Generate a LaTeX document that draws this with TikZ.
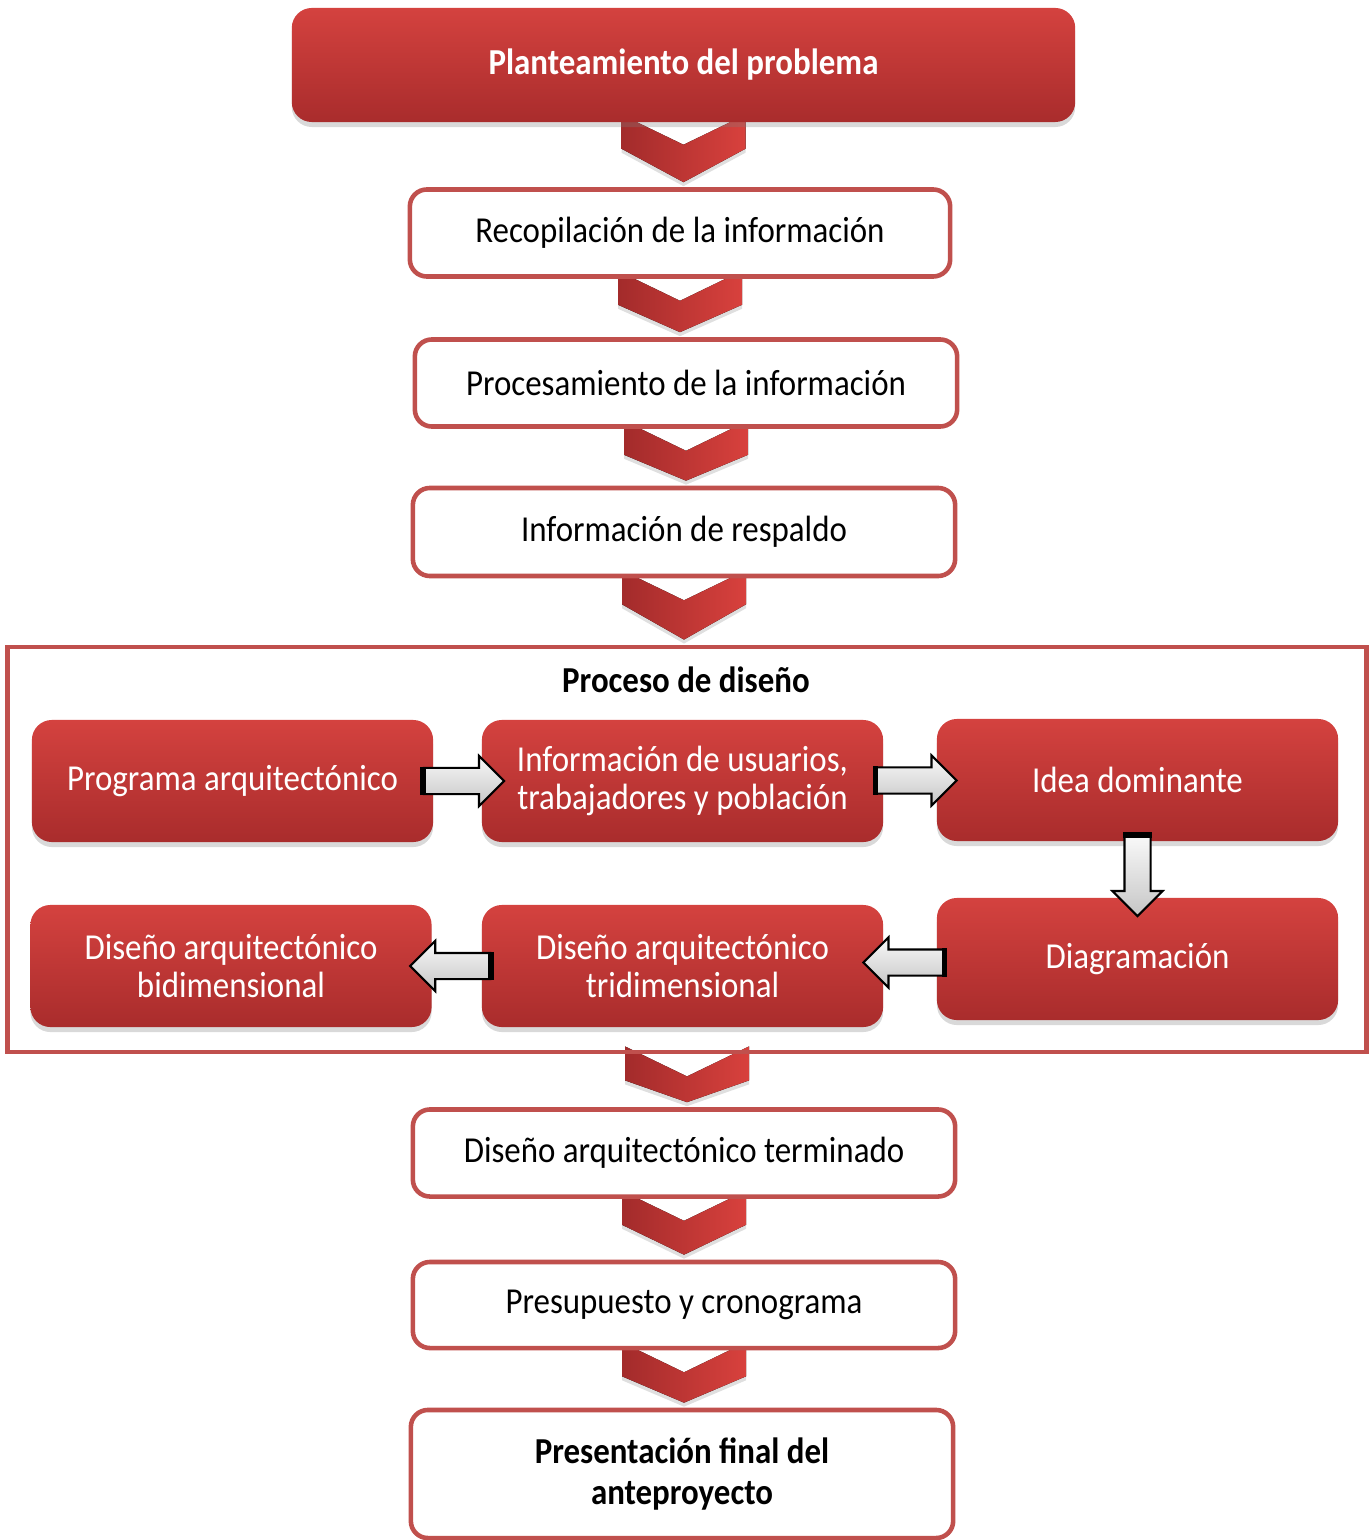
\documentclass[tikz,border=0pt]{standalone}
\usepackage{fontspec}
\setmainfont{Carlito}[FakeStretch=0.9]
\usetikzlibrary{calc,shapes.arrows,shadows}
\pgfdeclarelayer{back}
\pgfsetlayers{back,main}
\definecolor{accent}{HTML}{C0504D}
\definecolor{boxtop}{HTML}{D4423F}
\definecolor{boxbot}{HTML}{A92C2C}
\definecolor{chevdark}{HTML}{A32B2B}
\definecolor{chevlight}{HTML}{D8413D}
\tikzset{
  wbox/.style={draw=accent, line width=1.3pt, fill=white, rounded corners=0.17cm, align=center, minimum width=5.42cm, minimum height=0.87cm, font=\fontsize{10.4}{11.5}\selectfont},
  rbox/.style={rounded corners=0.2cm, top color=boxtop, bottom color=boxbot, text=white, align=center, minimum width=4.01cm, minimum height=1.22cm, font=\fontsize{10.4}{11}\selectfont, drop shadow={opacity=0.3, shadow xshift=0pt, shadow yshift=-0.05cm}},
  chevron/.style={left color=chevdark, right color=chevlight, drop shadow={opacity=0.25, shadow xshift=0pt, shadow yshift=-0.04cm}},
  garrow/.style={single arrow, draw=black, line width=0.6pt, top color=gray!5, bottom color=gray!45, inner sep=0.12cm, single arrow head extend=0.12cm, minimum height=0.8cm},
  tailcap/.style={line width=1.6pt, black}
}
% chevron below node #1, tip pointing at node #2
\newcommand{\chev}[2]{\fill[chevron] ($(#1.south)+(-62,-8)$) -- ($(#1.south)+(0,22)$) -- ($(#1.south)+(62,-8)$) -- ($(#1.south)+(62,26)$) -- ($(#1.south |- #2.north)+(0,-5)$) -- ($(#1.south)+(-62,26)$) -- cycle;}
\begin{document}
\begin{tikzpicture}[x=0.01cm, y=-0.01cm]
  \useasboundingbox (0,0) rectangle (1369,1540);

  \node[rbox, minimum width=7.83cm, minimum height=1.14cm, font=\bfseries\fontsize{10.4}{11}\selectfont] (plant) at (683.5,65) {Planteamiento del problema};
  \node[wbox, minimum width=5.40cm] (recop) at (680,233) {Recopilación de la información};
  \node[wbox] (proces) at (686,383) {Procesamiento de la información};
  \node[wbox, minimum height=0.88cm] (respal) at (684,532) {Información de respaldo};

  % proceso de diseno
  \node[draw=accent, line width=1.3pt, minimum width=13.58cm, minimum height=4.05cm] (diseno) at (687,849.5) {};
  \node[font=\bfseries\fontsize{10.4}{11}\selectfont] (titdis) at (686,680) {Proceso de diseño};

  \node[rbox] (prog) at (232.5,781) {Programa arquitectónico};
  \node[rbox] (usuar) at (682.5,781) {Información de usuarios,\\trabajadores y población};
  \node[rbox] (idea) at (1137.5,780) {Idea dominante};
  \node[rbox] (bidim) at (231,966) {Diseño arquitectónico\\bidimensional};
  \node[rbox] (tridim) at (682.5,966) {Diseño arquitectónico\\tridimensional};
  \node[rbox] (diagr) at (1137.5,959) {Diagramación};

  \node[garrow] (a1) at ($(prog.east)!.5!(usuar.west)$) {};
  \node[garrow] (a2) at ($(usuar.east)!.5!(idea.west)$) {};
  \node[garrow, shape border rotate=270] (a3) at ($(idea.south)!.5!(diagr.north)$) {};
  \node[garrow, shape border rotate=180] (a4) at ($(diagr.west)!.5!(tridim.east)$) {};
  \node[garrow, shape border rotate=180] (a5) at ($(tridim.west)!.5!(bidim.east)$) {};
  \foreach \a in {a1,a2,a3,a4,a5}
    \draw[tailcap] (\a.before tail) -- (\a.after tail);

  \node[wbox] (termin) at (684,1153) {Diseño arquitectónico terminado};
  \node[wbox, minimum height=0.86cm] (presup) at (684,1305) {Presupuesto y cronograma};
  \node[wbox, minimum height=1.28cm, font=\bfseries\fontsize{10.4}{11.4}\selectfont] (final) at (682,1474) {Presentación final del\\anteproyecto};

  \begin{pgfonlayer}{back}
    \chev{plant}{recop}
    \chev{recop}{proces}
    \chev{proces}{respal}
    \chev{respal}{diseno}
    \chev{diseno}{termin}
    \chev{termin}{presup}
    \chev{presup}{final}
  \end{pgfonlayer}
\end{tikzpicture}
\end{document}
